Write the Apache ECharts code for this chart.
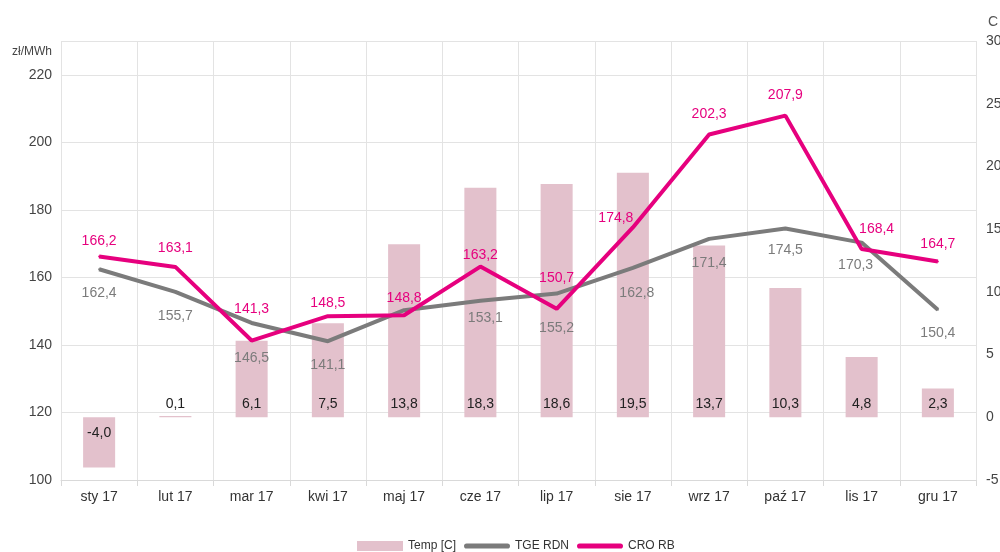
<!DOCTYPE html>
<html lang="pl">
<head>
    <meta charset="UTF-8">
    <title>Ceny energii 2017</title>
    <script src="https://cdn.jsdelivr.net/npm/echarts@6/dist/echarts.min.js"></script>
    <style>
        html, body { margin: 0; height: 100%; background: #fff; }
        #main { width: 1000px; height: 552px; }
    </style>
</head>
<body>
<div id="main"></div>
<script>
    // dane
    var months = ['sty 17', 'lut 17', 'mar 17', 'kwi 17', 'maj 17', 'cze 17',
        'lip 17', 'sie 17', 'wrz 17', 'paź 17', 'lis 17', 'gru 17'];
    var temp = [-4.0, 0.1, 6.1, 7.5, 13.8, 18.3, 18.6, 19.5, 13.7, 10.3, 4.8, 2.3];
    var tgeRdn = [162.4, 155.7, 146.5, 141.1, 150.3, 153.1, 155.2, 162.8, 171.4, 174.5, 170.3, 150.4];
    var croRb = [166.2, 163.1, 141.3, 148.5, 148.8, 163.2, 150.7, 174.8, 202.3, 207.9, 168.4, 164.7];

    // odstepy etykiet (jak w oryginale)
    var croLift = [7, 11, 23, 5, 9, 3, 23, 1, 12, 12, 12, 9];
    var croShift = [0, 0, 0, 0, 0, 0, 0, -17, 0, 0, 15, 0];
    var tgeDrop = [16, 16, 27, 16, 0, 9, 27, 17, 16, 14, 15, 15];
    var tgeShift = [0, 0, 0, 0, 0, 5, 0, 4, 0, 0, -6, 0];

    var fmt = function (v) {
        return Number(v).toFixed(1).replace('.', ',');
    };
    var font = 'Liberation Sans, Arial, sans-serif';
    var lineIcon = 'path://M2,0 H34 A2,2 0 0 1 34,4 H2 A2,2 0 0 1 2,0 Z';

    var myChart = echarts.init(document.getElementById('main'));

    var option = {
        textStyle: { fontFamily: font },
        animation: false,
        grid: { left: 61, right: 24, top: 41, bottom: 72, outerBoundsMode: 'none', containLabel: false },
        graphic: [
            { type: 'text', right: 948, top: 46, style: { text: 'zł/MWh', font: '12px ' + font, fill: '#444' } },
            { type: 'text', left: 988, top: 15, style: { text: 'C', font: '14px ' + font, fill: '#555' } }
        ],
        legend: {
            bottom: -5,
            left: 352,
            itemWidth: 46,
            itemHeight: 10,
            itemGap: 8,
            textStyle: { color: '#333', fontSize: 12 },
            data: [
                { name: 'Temp [C]', icon: 'rect' },
                { name: 'TGE RDN', icon: lineIcon },
                { name: 'CRO RB', icon: lineIcon }
            ]
        },
        xAxis: {
            type: 'category',
            data: months,
            axisLine: { onZero: false, lineStyle: { color: '#d9d9d9' } },
            axisTick: { show: true, length: 6, lineStyle: { color: '#d9d9d9' } },
            splitLine: { show: true, lineStyle: { color: '#e3e3e3' } },
            axisLabel: { color: '#333', fontSize: 14, margin: 10 }
        },
        yAxis: [
            {
                type: 'value',
                min: 100,
                max: 230,
                interval: 20,
                axisLine: { show: false },
                axisTick: { show: false },
                splitLine: { lineStyle: { color: '#e3e3e3' } },
                axisLabel: { color: '#444', fontSize: 14, margin: 9, showMaxLabel: false }
            },
            {
                type: 'value',
                min: -5,
                max: 30,
                interval: 5,
                axisLine: { show: false },
                axisTick: { show: false },
                splitLine: { show: false },
                axisLabel: { color: '#444', fontSize: 14, margin: 10 }
            }
        ],
        series: [
            {
                name: 'Temp [C]',
                type: 'bar',
                yAxisIndex: 1,
                barWidth: '42%',
                itemStyle: { color: '#e3c1cc' },
                data: temp.map(function (v) {
                    return {
                        value: v,
                        label: { position: v < 0 ? 'insideTop' : 'insideBottom', distance: v < 0 ? 9 : 6 }
                    };
                }),
                label: {
                    show: true,
                    color: '#222',
                    fontSize: 14,
                    formatter: function (p) { return fmt(p.value); }
                },
                z: 1
            },
            {
                name: 'TGE RDN',
                type: 'line',
                showSymbol: true,
                symbol: 'circle',
                symbolSize: 2,
                lineStyle: { color: '#7b7b7b', width: 4 },
                itemStyle: { color: '#7b7b7b' },
                data: tgeRdn.map(function (v, i) {
                    return {
                        value: v,
                        label: { show: i !== 4, position: 'bottom', distance: tgeDrop[i], offset: [tgeShift[i], 0] }
                    };
                }),
                label: {
                    show: true,
                    color: '#7b7b7b',
                    fontSize: 14,
                    formatter: function (p) { return fmt(p.value); }
                },
                z: 3
            },
            {
                name: 'CRO RB',
                type: 'line',
                showSymbol: true,
                symbol: 'circle',
                symbolSize: 2,
                lineStyle: { color: '#e6007e', width: 4 },
                itemStyle: { color: '#e6007e' },
                data: croRb.map(function (v, i) {
                    return {
                        value: v,
                        label: { position: 'top', distance: croLift[i], offset: [croShift[i], 0] }
                    };
                }),
                label: {
                    show: true,
                    color: '#e6007e',
                    fontSize: 14,
                    formatter: function (p) { return fmt(p.value); }
                },
                z: 4
            }
        ]
    };

    myChart.setOption(option);
</script>
</body>
</html>
